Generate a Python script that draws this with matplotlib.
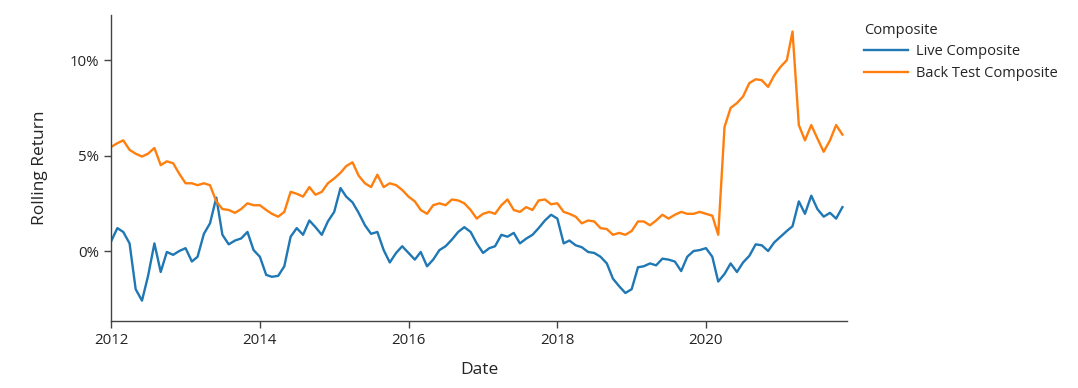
import matplotlib
matplotlib.use("Agg")
import matplotlib.pyplot as plt
import matplotlib.dates as mdates
from matplotlib.ticker import PercentFormatter
import pandas as pd

plt.rcParams['font.family'] = ['Open Sans', 'DejaVu Sans']

# monthly readings, Jan 2012 .. Nov 2021 (rolling return in %)
live = [0.5, 1.2, 1.0, 0.4, -2.0, -2.6, -1.3, 0.4, -1.1, -0.05, -0.2, 0.0,
        0.15, -0.55, -0.3, 0.9, 1.45, 2.8, 0.85, 0.35, 0.55, 0.66, 1.0, 0.05,
        -0.3, -1.25, -1.35, -1.3, -0.8, 0.75, 1.2, 0.85, 1.6, 1.25, 0.85, 1.55,
        2.05, 3.3, 2.85, 2.55, 2.0, 1.35, 0.9, 1.0, 0.05, -0.6, -0.1, 0.25,
        -0.1, -0.45, -0.05, -0.8, -0.45, 0.05, 0.25, 0.6, 1.0, 1.25, 1.0, 0.4,
        -0.1, 0.15, 0.25, 0.85, 0.75, 0.95, 0.4, 0.65, 0.85, 1.2, 1.6, 1.9,
        1.7, 0.4, 0.55, 0.3, 0.2, -0.05, -0.1, -0.3, -0.65, -1.45, -1.85, -2.2,
        -2.0, -0.85, -0.8, -0.65, -0.75, -0.4, -0.45, -0.55, -1.05, -0.3, 0.0, 0.05,
        0.15, -0.3, -1.6, -1.2, -0.65, -1.1, -0.6, -0.25, 0.35, 0.3, 0.0, 0.45,
        0.75, 1.05, 1.3, 2.6, 1.95, 2.9, 2.2, 1.8, 2.0, 1.7, 2.3]

backtest = [5.45, 5.65, 5.8, 5.3, 5.1, 4.95, 5.1, 5.4, 4.5, 4.7, 4.6, 4.05,
            3.55, 3.55, 3.45, 3.55, 3.45, 2.6, 2.2, 2.15, 2.0, 2.2, 2.5, 2.4,
            2.4, 2.15, 1.95, 1.8, 2.05, 3.1, 3.0, 2.85, 3.35, 2.95, 3.1, 3.55,
            3.8, 4.1, 4.45, 4.65, 3.95, 3.55, 3.35, 4.0, 3.35, 3.55, 3.45, 3.2,
            2.85, 2.6, 2.15, 1.95, 2.4, 2.5, 2.4, 2.7, 2.65, 2.5, 2.15, 1.7,
            1.95, 2.05, 1.95, 2.4, 2.7, 2.15, 2.05, 2.3, 2.15, 2.65, 2.7, 2.45,
            2.5, 2.05, 1.95, 1.8, 1.45, 1.6, 1.55, 1.2, 1.15, 0.85, 0.95, 0.85,
            1.05, 1.55, 1.55, 1.35, 1.6, 1.9, 1.7, 1.9, 2.05, 1.95, 1.95, 2.05,
            1.95, 1.85, 0.85, 6.5, 7.5, 7.75, 8.1, 8.8, 9.0, 8.95, 8.6, 9.2,
            9.65, 10.0, 11.5, 6.6, 5.8, 6.6, 5.9, 5.2, 5.8, 6.6, 6.1]

dates = pd.date_range("2012-01-01", periods=len(live), freq="MS")
df = pd.DataFrame({"Date": dates,
                   "Live Composite": [v / 100 for v in live],
                   "Back Test Composite": [v / 100 for v in backtest]})

fig = plt.figure(figsize=(10.78, 3.88), dpi=100)
ax = fig.add_axes([0.103, 0.173, 0.683, 0.788])

ax.plot(df["Date"], df["Live Composite"], color="#1f77b4", lw=1.7, label="Live Composite")
ax.plot(df["Date"], df["Back Test Composite"], color="#ff7f0e", lw=1.7, label="Back Test Composite")

ax.set_xlim(pd.Timestamp("2012-01-01"), pd.Timestamp("2021-11-25"))
ax.set_ylim(-0.0366, 0.1236)
ax.set_yticks([0, 0.05, 0.10])
ax.yaxis.set_major_formatter(PercentFormatter(1.0, decimals=0))
ax.xaxis.set_major_locator(mdates.YearLocator(2))
ax.xaxis.set_major_formatter(mdates.DateFormatter("%Y"))

for side in ["top", "right"]:
    ax.spines[side].set_visible(False)
for side in ["left", "bottom"]:
    ax.spines[side].set_color("#444444")
    ax.spines[side].set_linewidth(1)
ax.tick_params(direction="out", length=5, width=1, color="#444444",
               labelsize=10.8, labelcolor="#242424")

ax.set_xlabel("Date", fontsize=12.5, color="#242424", labelpad=10)
ax.set_ylabel("Rolling Return", fontsize=12.5, color="#242424", labelpad=16)

leg = ax.legend(title="Composite", loc="upper left", bbox_to_anchor=(1.005, 1.018),
                frameon=False, fontsize=10.5, title_fontsize=10.5,
                handlelength=3.0, handletextpad=0.55, labelspacing=0.45,
                alignment="left", labelcolor="#242424")
leg.get_title().set_color("#242424")

fig.savefig("out.png", dpi=100)
